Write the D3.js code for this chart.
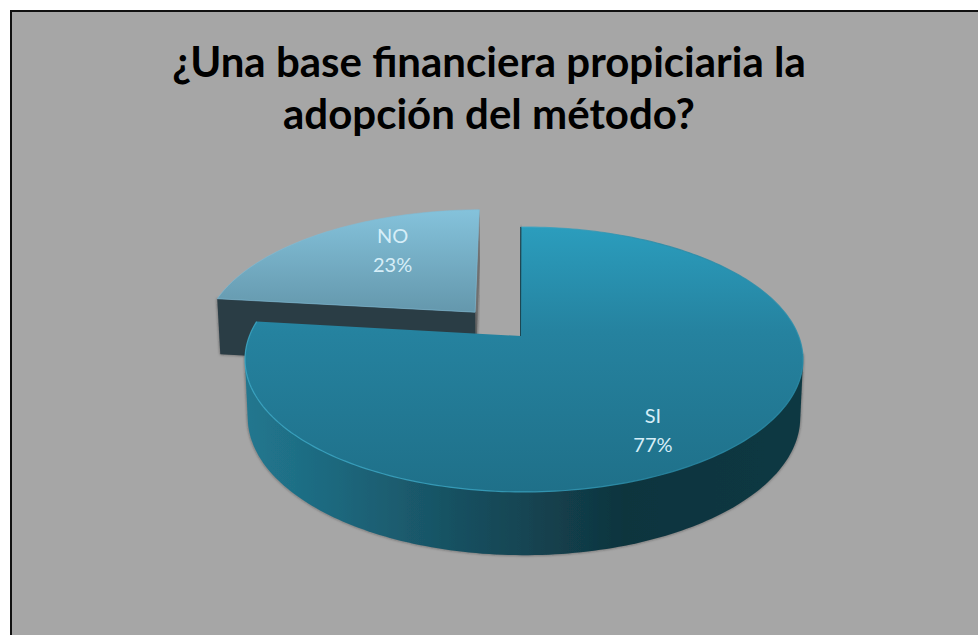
<!DOCTYPE html>
<html>
<head>
<meta charset="utf-8">
<script src="https://cdnjs.cloudflare.com/ajax/libs/d3/7.8.5/d3.min.js"></script>
<style>
    html, body { margin: 0; padding: 0; background: #fff; overflow: hidden; }
    text { font-family: Lato, "Open Sans", sans-serif; }
</style>
</head>
<body>
<script>
    const categories = ['SI', 'NO'];
    const values = [77, 23];
    const percentLabels = ['77%', '23%'];
    const titleLines = ['¿Una base financiera propiciaria la', 'adopción del método?'];

    const width = 978, height = 635;
    const svg = d3.select('body').append('svg')
        .attr('width', width)
        .attr('height', height);
    const defs = svg.append('defs');

    function gradient(id, x1, y1, x2, y2, stops) {
        let g = defs.append('linearGradient')
            .attr('id', id)
            .attr('gradientUnits', 'userSpaceOnUse')
            .attr('x1', x1).attr('y1', y1).attr('x2', x2).attr('y2', y2);
        stops.forEach(s => g.append('stop').attr('offset', s[0]).attr('stop-color', s[1]));
    }
    gradient('topSi', 0, 227, 0, 492, [[0, '#2b9dbd'], [0.4, '#25829f'], [1, '#1f7089']]);
    gradient('topNo', 0, 208, 0, 335, [[0, '#85c3dc'], [1, '#5d8ea2']]);
    gradient('wallSi', 245, 0, 803, 0, [[0, '#21778f'], [0.14, '#1e6a80'], [0.4, '#174e5e'], [0.68, '#0f343e'], [1, '#103843']]);
    gradient('bevel', 245, 0, 803, 0, [[0, '#3fabc9'], [0.5, '#3aa5c3'], [0.75, '#2a8aa6'], [1, '#2b8fac']]);

    let soft = defs.append('filter').attr('id', 'soft')
        .attr('x', '-5%').attr('y', '-5%').attr('width', '110%').attr('height', '110%');
    soft.append('feDropShadow')
        .attr('dx', 0).attr('dy', 0).attr('stdDeviation', 1.6)
        .attr('flood-color', '#222').attr('flood-opacity', 0.6);

    // chart area, only the top and left borders fall inside the picture
    svg.append('rect')
        .attr('x', 11).attr('y', 11)
        .attr('width', width + 20).attr('height', height + 20)
        .attr('fill', '#a6a6a6')
        .attr('stroke', '#111')
        .attr('stroke-width', 2);

    svg.selectAll('.title')
        .data(titleLines)
        .enter()
        .append('text')
        .attr('class', 'title')
        .attr('x', 489)
        .attr('y', (d, i) => 77 + i * 52)
        .attr('text-anchor', 'middle')
        .attr('font-size', 42)
        .attr('font-weight', 700)
        .attr('fill', '#000')
        .text(d => d);

    // perspective of the pie plane: u is left-right, v is back-front
    const persp = 0.1773, planeX = 274.6, planeY = 128.3, apexY = 336;
    function project(u, v, cx) {
        let s = 1 / (1 - persp * v);
        return [cx + planeX * u * s, apexY + planeY * v * s];
    }
    function lower(p, cx) {
        return [cx + (p[0] - cx) * 0.99, 393 + (p[1] - apexY) * 1.04];
    }

    const pie = d3.pie().sort(null).startAngle(-0.011).endAngle(2 * Math.PI - 0.011);
    const arcs = pie(values);
    const line = d3.line();

    const explode = [0, 0.258];
    const slices = arcs.map((a, i) => {
        let mid = (a.startAngle + a.endAngle) / 2;
        let ou = Math.sin(mid) * explode[i], ov = -Math.cos(mid) * explode[i];
        let cx = i == 0 ? 524 : 521;
        let n = Math.ceil((a.endAngle - a.startAngle) / 0.02);
        let rim = d3.range(n + 1).map(k => {
            let t = a.startAngle + (a.endAngle - a.startAngle) * k / n;
            return project(ou + Math.sin(t), ov - Math.cos(t), cx);
        });
        let apex = i == 0 ? [521, apexY] : project(ou, ov, cx);
        return { rim: rim, apex: apex, cx: cx, ou: ou, ov: ov };
    });

    const si = slices[0], no = slices[1];

    // NO slice, walls first
    let noRimLow = no.rim.map(p => lower(p, no.cx));
    let noApexLow = lower(no.apex, no.cx);
    svg.append('path') // wall seen at the top end of the slice
        .attr('d', line([no.apex, no.rim[no.rim.length - 1], noRimLow[noRimLow.length - 1], noApexLow]) + 'Z')
        .attr('fill', '#6f6f6f')
        .attr('filter', 'url(#soft)');
    svg.append('path') // cut face
        .attr('d', line([no.apex, no.rim[0], noRimLow[0], noApexLow]) + 'Z')
        .attr('fill', '#2a3c45')
        .attr('filter', 'url(#soft)');
    svg.append('path')
        .attr('d', line([no.apex].concat(no.rim)) + 'Z')
        .attr('fill', 'url(#topNo)')
        .attr('stroke', '#7dbcd6')
        .attr('stroke-width', 0.6);

    // SI slice
    let siRimLow = si.rim.map(p => lower(p, si.cx));
    svg.append('path') // cut face by the gap
        .attr('d', line([si.apex, si.rim[0], siRimLow[0], lower(si.apex, si.cx)]) + 'Z')
        .attr('fill', '#16404c')
        .attr('stroke', '#1c4653')
        .attr('stroke-width', 2.5)
        .attr('filter', 'url(#soft)');
    // outer wall is the hull of the front part of both rims, the top face covers the rest
    let wallPoints = si.rim.concat(siRimLow).filter(p => p[1] >= 352);
    svg.append('path')
        .attr('d', line(d3.polygonHull(wallPoints)) + 'Z')
        .attr('fill', 'url(#wallSi)')
        .attr('filter', 'url(#soft)');
    svg.append('path')
        .attr('d', line([si.apex].concat(si.rim)) + 'Z')
        .attr('fill', 'url(#topSi)');
    svg.append('path') // light bevel along the rim
        .attr('d', line(si.rim))
        .attr('fill', 'none')
        .attr('stroke', 'url(#bevel)')
        .attr('stroke-opacity', 0.8)
        .attr('stroke-width', 1.2);

    // labels, in plane coordinates of each slice
    const labelPlane = [[0.412, 0.691], [-0.352, -0.4975]];
    slices.forEach((s, i) => {
        let p = project(s.ou + labelPlane[i][0], s.ov + labelPlane[i][1], s.cx);
        [categories[i], percentLabels[i]].forEach((t, k) => {
            svg.append('text')
                .attr('x', p[0])
                .attr('y', p[1] + (k == 0 ? -14 : 15))
                .attr('text-anchor', 'middle')
                .attr('font-size', 20)
                .attr('fill', '#d6eef8')
                .text(t);
        });
    });
</script>
</body>
</html>
